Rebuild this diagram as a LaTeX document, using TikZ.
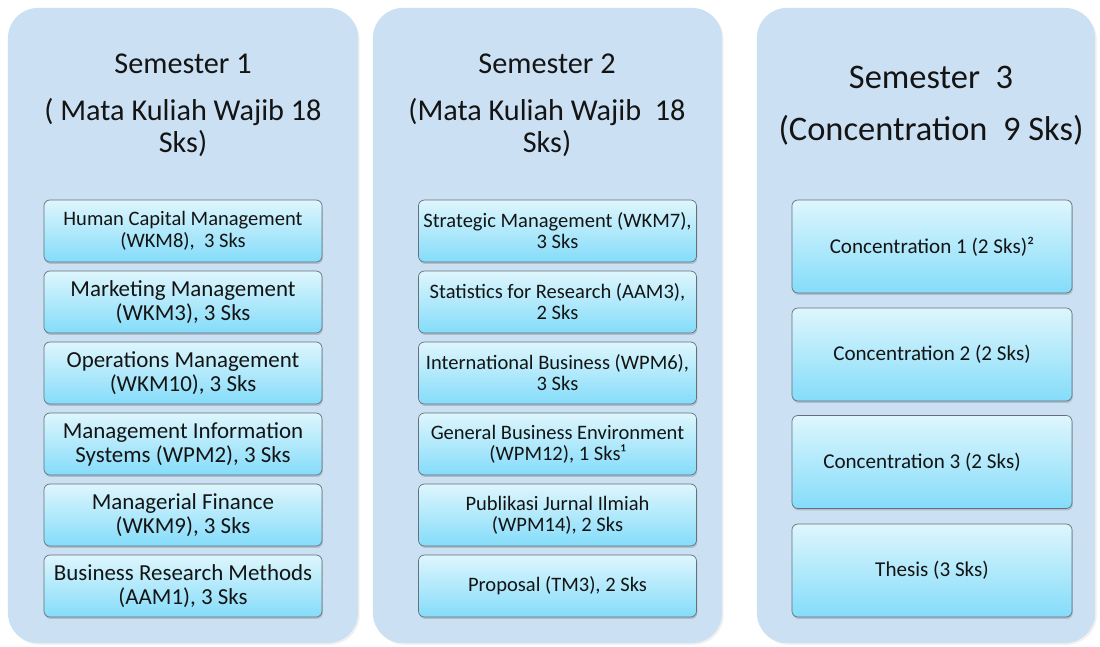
\documentclass[tikz,border=0pt]{standalone}
\usepackage{fontspec}
\setmainfont{Carlito}
\usetikzlibrary{shadows}

\definecolor{panelblue}{RGB}{203,224,243}
\definecolor{boxtop}{RGB}{222,246,253}
\definecolor{boxbottom}{RGB}{132,220,250}
\definecolor{boxline}{RGB}{100,112,122}
\definecolor{ink}{RGB}{20,20,20}

\begin{document}
\begin{tikzpicture}[x=0.025cm,y=-0.025cm,
  panel/.style={fill=panelblue, rounded corners=0.75cm, minimum height=15.875cm, inner sep=0pt,
    drop shadow={shadow xshift=1.2pt, shadow yshift=-1.2pt, opacity=0.12}},
  title/.style={anchor=base, inner sep=0pt, text=ink, font=\fontsize{21.5}{24}\selectfont},
  course/.style={draw=boxline, line width=0.5pt, top color=boxtop, bottom color=boxbottom,
    rounded corners=0.15cm, minimum width=6.95cm, minimum height=1.55cm, inner sep=0pt,
    align=center, text=ink, font=\fontsize{16.3}{17}\selectfont,
    drop shadow={shadow xshift=0.6pt, shadow yshift=-1.4pt, opacity=0.35}},
  course2/.style={course, font=\fontsize{14.6}{15}\selectfont},
  conc/.style={course, minimum width=7cm, minimum height=2.325cm, font=\fontsize{15}{17}\selectfont}]

\useasboundingbox (0,0) rectangle (1100,646);

% panels
\node[panel, minimum width=8.75cm] (p1) at (183,325.5) {};
\node[panel, minimum width=8.725cm] (p2) at (547.5,325.5) {};
\node[panel, minimum width=8.45cm] (p3) at (926,325.5) {};

% titles
\node[title] (t1) at (183,73) {Semester 1};
\node[title] (t1a) at (183,120) {( Mata Kuliah Wajib 18};
\node[title] (t1b) at (183,152) {Sks)};
\node[title] (t2) at (547,73) {Semester 2};
\node[title] (t2a) at (547,120) {(Mata Kuliah Wajib \ 18};
\node[title] (t2b) at (547,152) {Sks)};
\node[title, font=\fontsize{24.5}{26}\selectfont] (t3) at (931,88) {Semester \ 3};
\node[title, font=\fontsize{24.5}{26}\selectfont] (t3a) at (931,140) {(Concentration \ 9 Sks)};

% semester 1
\node[course, font=\fontsize{14.6}{15.6}\selectfont] (hcm) at (183,231) {Human Capital Management\\(WKM8), \ 3 Sks};
\node[course] (mm) at (183,302) {Marketing Management\\(WKM3), 3 Sks};
\node[course] (om) at (183,373) {Operations Management\\(WKM10), 3 Sks};
\node[course] (mis) at (183,444) {Management Information\\Systems (WPM2), 3 Sks};
\node[course] (mf) at (183,515) {Managerial Finance\\(WKM9), 3 Sks};
\node[course] (brm) at (183,586) {Business Research Methods\\(AAM1), 3 Sks};

% semester 2
\node[course2] (sm) at (557.5,231) {Strategic Management (WKM7),\\3 Sks};
\node[course2] (sr) at (557.5,302) {Statistics for Research (AAM3),\\2 Sks};
\node[course2] (ib) at (557.5,373) {International Business (WPM6),\\3 Sks};
\node[course2] (gbe) at (557.5,444) {General Business Environment\\(WPM12), 1 Sks¹};
\node[course2] (pji) at (557.5,515) {Publikasi Jurnal Ilmiah\\(WPM14), 2 Sks};
\node[course2] (prop) at (557.5,586) {Proposal (TM3), 2 Sks};

% semester 3
\node[conc] (c1) at (932,246.5) {Concentration 1 (2 Sks)²};
\node[conc] (c2) at (932,354.5) {Concentration 2 (2 Sks)};
\node[conc] (c3) at (932,462) {\hspace*{-0.5cm}Concentration 3 (2 Sks)};
\node[conc] (th) at (932,570.5) {Thesis (3 Sks)};
\end{tikzpicture}
\end{document}
